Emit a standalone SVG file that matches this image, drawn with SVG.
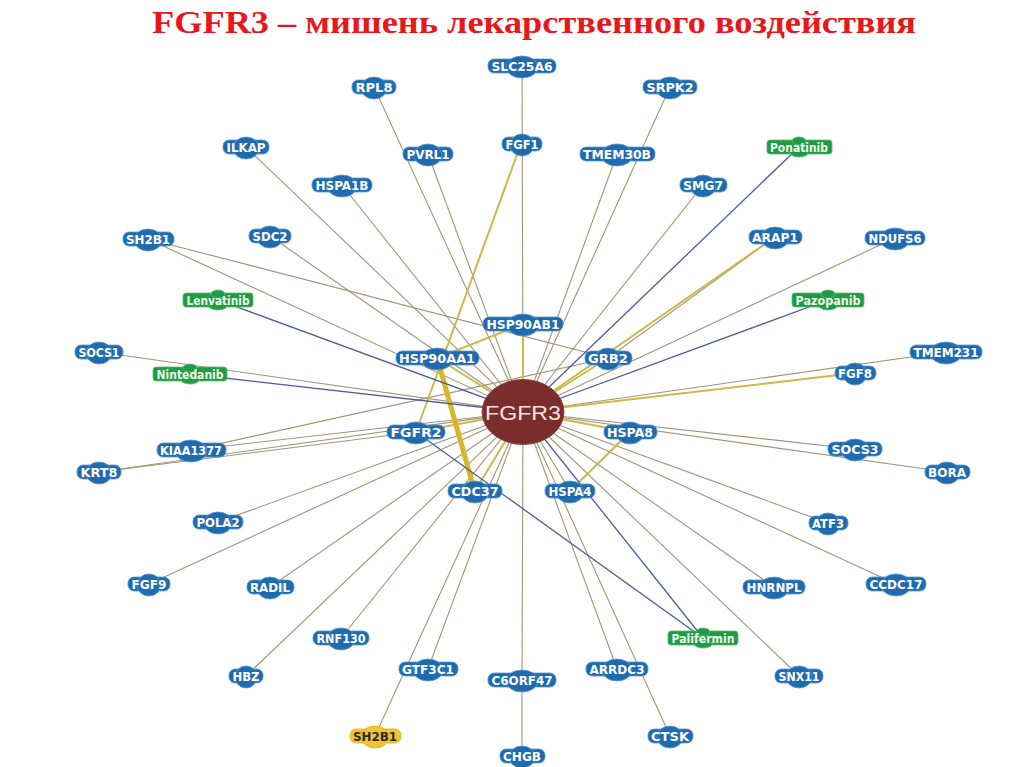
<svg xmlns="http://www.w3.org/2000/svg" width="1024" height="767" viewBox="0 0 1024 767">
<style>
.e{stroke:#a09676;stroke-width:1.1;fill:none}
.y{stroke:#cdb84a;stroke-width:2;fill:none}
.yt{stroke:#d9b52c;stroke-width:5;fill:none;stroke-linecap:round}
.b{stroke:#4b5c9e;stroke-width:1.3;fill:none}
.gene rect,.gene ellipse{fill:#1f6bb0;stroke:#5c97cf;stroke-width:0.8}
.gene text{fill:#fff;font-family:"DejaVu Sans",sans-serif;font-weight:bold;font-size:12px;text-anchor:middle}
.drug rect,.drug ellipse{fill:#1f9a45;stroke:#5cbf6e;stroke-width:0.8}
.drug text{fill:#eef8ea;font-family:"DejaVu Sans",sans-serif;font-weight:bold;font-size:11.5px;text-anchor:middle}
.yel rect,.yel ellipse{fill:#f4c430;stroke:#e2ae1c;stroke-width:0.8}
.yel text{fill:#2a2a2a;font-family:"DejaVu Sans",sans-serif;font-weight:bold;font-size:12px;text-anchor:middle}
.title{fill:#e8171b;font-family:"Liberation Serif",serif;font-weight:bold;font-size:31px}
</style>
<rect width="1024" height="767" fill="#fff"/>
<text class="title" x="152" y="33" textLength="764" lengthAdjust="spacingAndGlyphs">FGFR3 – мишень лекарственного воздействия</text>

<g id="connectors">
<line class="e" x1="522" y1="66" x2="523" y2="412"/>
<line class="e" x1="374" y1="87" x2="523" y2="412"/>
<line class="e" x1="670" y1="87" x2="523" y2="412"/>
<line class="e" x1="246" y1="147" x2="523" y2="412"/>
<line class="e" x1="428" y1="154" x2="523" y2="412"/>
<line class="e" x1="617" y1="154" x2="523" y2="412"/>
<line class="e" x1="342" y1="185" x2="523" y2="412"/>
<line class="e" x1="703" y1="185" x2="523" y2="412"/>
<line class="e" x1="148" y1="239" x2="523" y2="412"/>
<line class="e" x1="148" y1="239" x2="608" y2="358"/>
<line class="e" x1="270" y1="236" x2="523" y2="412"/>
<line class="e" x1="895" y1="238" x2="523" y2="412"/>
<line class="e" x1="99" y1="352" x2="523" y2="412"/>
<line class="e" x1="946" y1="352" x2="523" y2="412"/>
<line class="e" x1="191" y1="450" x2="523" y2="412"/>
<line class="e" x1="191" y1="450" x2="608" y2="358"/>
<line class="e" x1="855" y1="449" x2="523" y2="412"/>
<line class="e" x1="99" y1="472" x2="523" y2="412"/>
<line class="e" x1="99" y1="472" x2="416" y2="432"/>
<line class="e" x1="947" y1="472" x2="523" y2="412"/>
<line class="e" x1="570" y1="491" x2="523" y2="412"/>
<line class="e" x1="218" y1="522" x2="523" y2="412"/>
<line class="e" x1="828" y1="523" x2="523" y2="412"/>
<line class="e" x1="149" y1="584" x2="523" y2="412"/>
<line class="e" x1="270" y1="587" x2="523" y2="412"/>
<line class="e" x1="774" y1="587" x2="523" y2="412"/>
<line class="e" x1="896" y1="584" x2="523" y2="412"/>
<line class="e" x1="341" y1="638" x2="523" y2="412"/>
<line class="e" x1="246" y1="676" x2="523" y2="412"/>
<line class="e" x1="428" y1="669" x2="523" y2="412"/>
<line class="e" x1="522" y1="680" x2="523" y2="412"/>
<line class="e" x1="617" y1="669" x2="523" y2="412"/>
<line class="e" x1="799" y1="676" x2="523" y2="412"/>
<line class="e" x1="375" y1="736" x2="523" y2="412"/>
<line class="e" x1="670" y1="736" x2="523" y2="412"/>
<line class="e" x1="522" y1="756" x2="522" y2="680"/>
<line class="e" x1="775" y1="237" x2="608" y2="358"/>
<line class="y" x1="775" y1="237" x2="523" y2="412"/>
<line class="y" x1="855" y1="373" x2="523" y2="412"/>
<line class="y" x1="523" y1="324" x2="523" y2="412"/>
<line class="y" x1="437" y1="358" x2="523" y2="412"/>
<line class="y" x1="608" y1="358" x2="523" y2="412"/>
<line class="y" x1="416" y1="432" x2="523" y2="412"/>
<line class="y" x1="630" y1="432" x2="523" y2="412"/>
<line class="y" x1="475" y1="491" x2="523" y2="412"/>
<line class="y" x1="518" y1="152" x2="416" y2="432"/>
<line class="y" x1="523" y1="324" x2="437" y2="358"/>
<line class="y" x1="570" y1="491" x2="630" y2="432"/>
<line class="yt" x1="440" y1="368" x2="472" y2="482"/>
<line class="b" x1="799" y1="147" x2="523" y2="412"/>
<line class="b" x1="828" y1="300" x2="523" y2="412"/>
<line class="b" x1="218" y1="300" x2="523" y2="412"/>
<line class="b" x1="190" y1="374" x2="523" y2="412"/>
<line class="b" x1="703" y1="638" x2="523" y2="412"/>
<line class="b" x1="416" y1="432" x2="703" y2="638"/>
</g>

<g id="n-SLC25A6" class="gene" transform="translate(522,66)"><rect x="-34" y="-7" width="68" height="14" rx="6"/><ellipse cx="0" cy="1" rx="16" ry="11"/><text y="4.5" textLength="61" lengthAdjust="spacingAndGlyphs">SLC25A6</text></g>
<g id="n-RPL8" class="gene" transform="translate(374,87)"><rect x="-22" y="-7" width="44" height="14" rx="6"/><ellipse cx="0" cy="1" rx="13" ry="11"/><text y="4.5" textLength="37" lengthAdjust="spacingAndGlyphs">RPL8</text></g>
<g id="n-SRPK2" class="gene" transform="translate(670,87)"><rect x="-27" y="-7" width="54" height="14" rx="6"/><ellipse cx="0" cy="1" rx="14" ry="11"/><text y="4.5" textLength="47" lengthAdjust="spacingAndGlyphs">SRPK2</text></g>
<g id="n-ILKAP" class="gene" transform="translate(246,147)"><rect x="-23" y="-7" width="46" height="14" rx="6"/><ellipse cx="0" cy="1" rx="13" ry="11"/><text y="4.5" textLength="39" lengthAdjust="spacingAndGlyphs">ILKAP</text></g>
<g id="n-PVRL1" class="gene" transform="translate(428,154)"><rect x="-25" y="-7" width="50" height="14" rx="6"/><ellipse cx="0" cy="1" rx="14" ry="11"/><text y="4.5" textLength="43" lengthAdjust="spacingAndGlyphs">PVRL1</text></g>
<g id="n-FGF1" class="gene" transform="translate(522,144)"><rect x="-20" y="-7" width="40" height="14" rx="6"/><ellipse cx="0" cy="1" rx="12" ry="11"/><text y="4.5" textLength="33" lengthAdjust="spacingAndGlyphs">FGF1</text></g>
<g id="n-TMEM30B" class="gene" transform="translate(617,154)"><rect x="-37" y="-7" width="75" height="14" rx="6"/><ellipse cx="0" cy="1" rx="16" ry="11"/><text y="4.5" textLength="68" lengthAdjust="spacingAndGlyphs">TMEM30B</text></g>
<g id="n-Ponatinib" class="drug" transform="translate(799,147)"><rect x="-32" y="-7" width="65" height="14" rx="3"/><ellipse cx="0" cy="-6" rx="7" ry="4"/><ellipse cx="0" cy="6" rx="9" ry="4"/><text y="4.5" textLength="58" lengthAdjust="spacingAndGlyphs">Ponatinib</text></g>
<g id="n-HSPA1B" class="gene" transform="translate(342,185)"><rect x="-30" y="-7" width="60" height="14" rx="6"/><ellipse cx="0" cy="1" rx="15" ry="11"/><text y="4.5" textLength="53" lengthAdjust="spacingAndGlyphs">HSPA1B</text></g>
<g id="n-SMG7" class="gene" transform="translate(703,185)"><rect x="-23" y="-7" width="47" height="14" rx="6"/><ellipse cx="0" cy="1" rx="13" ry="11"/><text y="4.5" textLength="40" lengthAdjust="spacingAndGlyphs">SMG7</text></g>
<g id="n-SH2B1" class="gene" transform="translate(148,239)"><rect x="-25" y="-7" width="51" height="14" rx="6"/><ellipse cx="0" cy="1" rx="14" ry="11"/><text y="4.5" textLength="44" lengthAdjust="spacingAndGlyphs">SH2B1</text></g>
<g id="n-SDC2" class="gene" transform="translate(270,236)"><rect x="-21" y="-7" width="42" height="14" rx="6"/><ellipse cx="0" cy="1" rx="13" ry="11"/><text y="4.5" textLength="35" lengthAdjust="spacingAndGlyphs">SDC2</text></g>
<g id="n-ARAP1" class="gene" transform="translate(775,237)"><rect x="-26" y="-7" width="53" height="14" rx="6"/><ellipse cx="0" cy="1" rx="14" ry="11"/><text y="4.5" textLength="46" lengthAdjust="spacingAndGlyphs">ARAP1</text></g>
<g id="n-NDUFS6" class="gene" transform="translate(895,238)"><rect x="-30" y="-7" width="60" height="14" rx="6"/><ellipse cx="0" cy="1" rx="15" ry="11"/><text y="4.5" textLength="53" lengthAdjust="spacingAndGlyphs">NDUFS6</text></g>
<g id="n-Lenvatinib" class="drug" transform="translate(218,300)"><rect x="-35" y="-7" width="70" height="14" rx="3"/><ellipse cx="0" cy="-6" rx="7" ry="4"/><ellipse cx="0" cy="6" rx="9" ry="4"/><text y="4.5" textLength="63" lengthAdjust="spacingAndGlyphs">Lenvatinib</text></g>
<g id="n-Pazopanib" class="drug" transform="translate(828,300)"><rect x="-36" y="-7" width="72" height="14" rx="3"/><ellipse cx="0" cy="-6" rx="7" ry="4"/><ellipse cx="0" cy="6" rx="9" ry="4"/><text y="4.5" textLength="65" lengthAdjust="spacingAndGlyphs">Pazopanib</text></g>
<g id="n-HSP90AB1" class="gene" transform="translate(523,324)"><rect x="-40" y="-7" width="80" height="14" rx="6"/><ellipse cx="0" cy="1" rx="16" ry="11"/><text y="4.5" textLength="73" lengthAdjust="spacingAndGlyphs">HSP90AB1</text></g>
<g id="n-HSP90AA1" class="gene" transform="translate(437,358)"><rect x="-41" y="-7" width="83" height="14" rx="6"/><ellipse cx="0" cy="1" rx="16" ry="11"/><text y="4.5" textLength="76" lengthAdjust="spacingAndGlyphs">HSP90AA1</text></g>
<g id="n-GRB2" class="gene" transform="translate(608,358)"><rect x="-23" y="-7" width="47" height="14" rx="6"/><ellipse cx="0" cy="1" rx="13" ry="11"/><text y="4.5" textLength="40" lengthAdjust="spacingAndGlyphs">GRB2</text></g>
<g id="n-SOCS1" class="gene" transform="translate(99,352)"><rect x="-24" y="-7" width="48" height="14" rx="6"/><ellipse cx="0" cy="1" rx="13" ry="11"/><text y="4.5" textLength="41" lengthAdjust="spacingAndGlyphs">SOCS1</text></g>
<g id="n-Nintedanib" class="drug" transform="translate(190,374)"><rect x="-37" y="-7" width="74" height="14" rx="3"/><ellipse cx="0" cy="-6" rx="7" ry="4"/><ellipse cx="0" cy="6" rx="9" ry="4"/><text y="4.5" textLength="67" lengthAdjust="spacingAndGlyphs">Nintedanib</text></g>
<g id="n-TMEM231" class="gene" transform="translate(946,352)"><rect x="-36" y="-7" width="72" height="14" rx="6"/><ellipse cx="0" cy="1" rx="16" ry="11"/><text y="4.5" textLength="65" lengthAdjust="spacingAndGlyphs">TMEM231</text></g>
<g id="n-FGF8" class="gene" transform="translate(855,373)"><rect x="-20" y="-7" width="41" height="14" rx="6"/><ellipse cx="0" cy="1" rx="12" ry="11"/><text y="4.5" textLength="34" lengthAdjust="spacingAndGlyphs">FGF8</text></g>
<g id="n-FGFR2" class="gene" transform="translate(416,432)"><rect x="-29" y="-7" width="58" height="14" rx="6"/><ellipse cx="0" cy="1" rx="15" ry="11"/><text y="4.5" textLength="51" lengthAdjust="spacingAndGlyphs">FGFR2</text></g>
<g id="n-HSPA8" class="gene" transform="translate(630,432)"><rect x="-26" y="-7" width="53" height="14" rx="6"/><ellipse cx="0" cy="1" rx="14" ry="11"/><text y="4.5" textLength="46" lengthAdjust="spacingAndGlyphs">HSPA8</text></g>
<g id="n-KIAA1377" class="gene" transform="translate(191,450)"><rect x="-34" y="-7" width="69" height="14" rx="6"/><ellipse cx="0" cy="1" rx="16" ry="11"/><text y="4.5" textLength="62" lengthAdjust="spacingAndGlyphs">KIAA1377</text></g>
<g id="n-SOCS3" class="gene" transform="translate(855,449)"><rect x="-27" y="-7" width="54" height="14" rx="6"/><ellipse cx="0" cy="1" rx="14" ry="11"/><text y="4.5" textLength="47" lengthAdjust="spacingAndGlyphs">SOCS3</text></g>
<g id="n-KRT8" class="gene" transform="translate(99,472)"><rect x="-22" y="-7" width="44" height="14" rx="6"/><ellipse cx="0" cy="1" rx="13" ry="11"/><text y="4.5" textLength="37" lengthAdjust="spacingAndGlyphs">KRT8</text></g>
<g id="n-BORA" class="gene" transform="translate(947,472)"><rect x="-22" y="-7" width="45" height="14" rx="6"/><ellipse cx="0" cy="1" rx="13" ry="11"/><text y="4.5" textLength="38" lengthAdjust="spacingAndGlyphs">BORA</text></g>
<g id="n-CDC37" class="gene" transform="translate(475,491)"><rect x="-27" y="-7" width="54" height="14" rx="6"/><ellipse cx="0" cy="1" rx="14" ry="11"/><text y="4.5" textLength="47" lengthAdjust="spacingAndGlyphs">CDC37</text></g>
<g id="n-HSPA4" class="gene" transform="translate(570,491)"><rect x="-25" y="-7" width="50" height="14" rx="6"/><ellipse cx="0" cy="1" rx="14" ry="11"/><text y="4.5" textLength="43" lengthAdjust="spacingAndGlyphs">HSPA4</text></g>
<g id="n-POLA2" class="gene" transform="translate(218,522)"><rect x="-25" y="-7" width="50" height="14" rx="6"/><ellipse cx="0" cy="1" rx="14" ry="11"/><text y="4.5" textLength="43" lengthAdjust="spacingAndGlyphs">POLA2</text></g>
<g id="n-ATF3" class="gene" transform="translate(828,523)"><rect x="-19" y="-7" width="39" height="14" rx="6"/><ellipse cx="0" cy="1" rx="12" ry="11"/><text y="4.5" textLength="32" lengthAdjust="spacingAndGlyphs">ATF3</text></g>
<g id="n-FGF9" class="gene" transform="translate(149,584)"><rect x="-21" y="-7" width="42" height="14" rx="6"/><ellipse cx="0" cy="1" rx="12" ry="11"/><text y="4.5" textLength="35" lengthAdjust="spacingAndGlyphs">FGF9</text></g>
<g id="n-RADIL" class="gene" transform="translate(270,587)"><rect x="-23" y="-7" width="47" height="14" rx="6"/><ellipse cx="0" cy="1" rx="13" ry="11"/><text y="4.5" textLength="40" lengthAdjust="spacingAndGlyphs">RADIL</text></g>
<g id="n-HNRNPL" class="gene" transform="translate(774,587)"><rect x="-31" y="-7" width="62" height="14" rx="6"/><ellipse cx="0" cy="1" rx="15" ry="11"/><text y="4.5" textLength="55" lengthAdjust="spacingAndGlyphs">HNRNPL</text></g>
<g id="n-CCDC17" class="gene" transform="translate(896,584)"><rect x="-30" y="-7" width="60" height="14" rx="6"/><ellipse cx="0" cy="1" rx="15" ry="11"/><text y="4.5" textLength="53" lengthAdjust="spacingAndGlyphs">CCDC17</text></g>
<g id="n-RNF130" class="gene" transform="translate(341,638)"><rect x="-28" y="-7" width="56" height="14" rx="6"/><ellipse cx="0" cy="1" rx="14" ry="11"/><text y="4.5" textLength="49" lengthAdjust="spacingAndGlyphs">RNF130</text></g>
<g id="n-Palifermin" class="drug" transform="translate(703,638)"><rect x="-35" y="-7" width="70" height="14" rx="3"/><ellipse cx="0" cy="-6" rx="7" ry="4"/><ellipse cx="0" cy="6" rx="9" ry="4"/><text y="4.5" textLength="63" lengthAdjust="spacingAndGlyphs">Palifermin</text></g>
<g id="n-HBZ" class="gene" transform="translate(246,676)"><rect x="-17" y="-7" width="34" height="14" rx="6"/><ellipse cx="0" cy="1" rx="11" ry="11"/><text y="4.5" textLength="27" lengthAdjust="spacingAndGlyphs">HBZ</text></g>
<g id="n-GTF3C1" class="gene" transform="translate(428,669)"><rect x="-29" y="-7" width="59" height="14" rx="6"/><ellipse cx="0" cy="1" rx="15" ry="11"/><text y="4.5" textLength="52" lengthAdjust="spacingAndGlyphs">GTF3C1</text></g>
<g id="n-C6ORF47" class="gene" transform="translate(522,680)"><rect x="-34" y="-7" width="68" height="14" rx="6"/><ellipse cx="0" cy="1" rx="16" ry="11"/><text y="4.5" textLength="61" lengthAdjust="spacingAndGlyphs">C6ORF47</text></g>
<g id="n-ARRDC3" class="gene" transform="translate(617,669)"><rect x="-31" y="-7" width="62" height="14" rx="6"/><ellipse cx="0" cy="1" rx="15" ry="11"/><text y="4.5" textLength="55" lengthAdjust="spacingAndGlyphs">ARRDC3</text></g>
<g id="n-SNX11" class="gene" transform="translate(799,676)"><rect x="-24" y="-7" width="48" height="14" rx="6"/><ellipse cx="0" cy="1" rx="13" ry="11"/><text y="4.5" textLength="41" lengthAdjust="spacingAndGlyphs">SNX11</text></g>
<g id="n-SH2B1-2" class="yel" transform="translate(375,736)"><rect x="-25" y="-7" width="51" height="14" rx="6"/><ellipse cx="0" cy="1" rx="14" ry="11"/><text y="4.5" textLength="44" lengthAdjust="spacingAndGlyphs">SH2B1</text></g>
<g id="n-CTSK" class="gene" transform="translate(670,736)"><rect x="-22" y="-7" width="45" height="14" rx="6"/><ellipse cx="0" cy="1" rx="13" ry="11"/><text y="4.5" textLength="38" lengthAdjust="spacingAndGlyphs">CTSK</text></g>
<g id="n-CHGB" class="gene" transform="translate(522,756)"><rect x="-22" y="-7" width="45" height="14" rx="6"/><ellipse cx="0" cy="1" rx="13" ry="11"/><text y="4.5" textLength="38" lengthAdjust="spacingAndGlyphs">CHGB</text></g>

<g id="n-FGFR3"><ellipse cx="523" cy="412" rx="41" ry="32.5" fill="#7b2d2b" stroke="#8e4340" stroke-width="1"/><text x="523" y="419.5" text-anchor="middle" font-family="Liberation Sans, Arial, sans-serif" font-size="21" fill="#f5e1e1" textLength="76" lengthAdjust="spacingAndGlyphs">FGFR3</text></g>
</svg>
